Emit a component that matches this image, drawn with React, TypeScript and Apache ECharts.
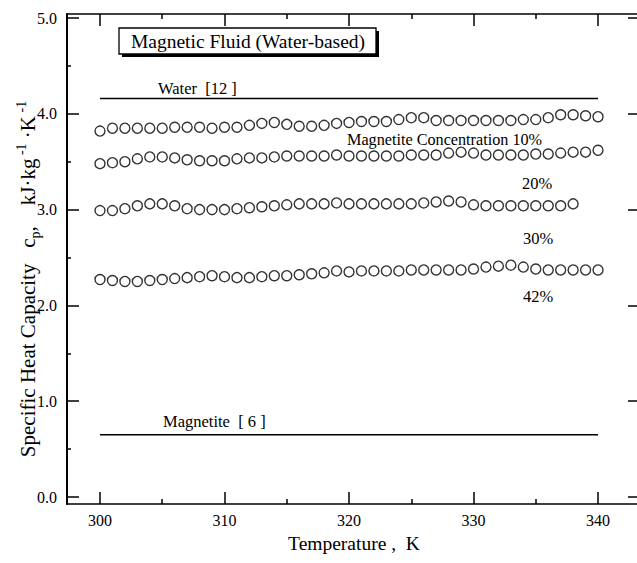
import React, { useEffect, useRef } from "react";
import * as echarts from "echarts";

// Temperature (K) of each measured point
const temperatures = [
  300, 301, 302, 303, 304, 305, 306, 307, 308, 309, 310, 311, 312, 313, 314, 315, 316, 317, 318, 319, 320,
  321, 322, 323, 324, 325, 326, 327, 328, 329, 330, 331, 332, 333, 334, 335, 336, 337, 338, 339, 340,
];

// Specific heat capacity (kJ/kg/K) of the magnetic fluid at each magnetite concentration
const cp10 = [
  3.82, 3.85, 3.85, 3.85, 3.85, 3.85, 3.86, 3.86, 3.86, 3.85, 3.86, 3.86, 3.88, 3.9, 3.91, 3.89, 3.87, 3.87, 3.88, 3.9, 3.91,
  3.92, 3.92, 3.92, 3.94, 3.96, 3.96, 3.93, 3.93, 3.93, 3.93, 3.93, 3.93, 3.93, 3.94, 3.94, 3.96, 3.99, 3.99, 3.98, 3.97,
];
const cp20 = [
  3.48, 3.49, 3.5, 3.53, 3.55, 3.55, 3.54, 3.52, 3.51, 3.51, 3.51, 3.53, 3.54, 3.54, 3.55, 3.56, 3.56, 3.56, 3.56, 3.57, 3.56,
  3.56, 3.56, 3.56, 3.56, 3.57, 3.57, 3.57, 3.59, 3.6, 3.59, 3.57, 3.57, 3.57, 3.57, 3.58, 3.58, 3.59, 3.6, 3.6, 3.62,
];
const cp30 = [
  2.99, 2.99, 3.01, 3.04, 3.06, 3.06, 3.04, 3.01, 3.0, 3.0, 3.0, 3.01, 3.02, 3.03, 3.04, 3.05, 3.06, 3.06, 3.06, 3.07, 3.06,
  3.06, 3.06, 3.06, 3.06, 3.06, 3.07, 3.08, 3.09, 3.08, 3.05, 3.04, 3.04, 3.04, 3.04, 3.04, 3.04, 3.04, 3.06,
];
const cp42 = [
  2.27, 2.26, 2.25, 2.25, 2.26, 2.27, 2.28, 2.29, 2.3, 2.31, 2.3, 2.29, 2.29, 2.3, 2.31, 2.31, 2.32, 2.33, 2.34, 2.36, 2.35,
  2.36, 2.36, 2.36, 2.36, 2.37, 2.37, 2.37, 2.37, 2.37, 2.38, 2.4, 2.41, 2.42, 2.4, 2.38, 2.37, 2.37, 2.37, 2.37, 2.37,
];

// Reference values (lines)
const waterRange = [300, 340];
const waterCp = 4.16;
const magnetiteRange = [300, 340];
const magnetiteCp = 0.65;

// Axis ticks
const xMajorTicks = [300, 310, 320, 330, 340];
const xMinorTicks = [305, 315, 325, 335];
const yMajorTicks = [0, 1, 2, 3, 4, 5];
const yMinorTicks = [0.5, 1.5, 2.5, 3.5, 4.5];

const FONT = "'Liberation Serif', 'Times New Roman', serif";

export default function App() {
  const ref = useRef<HTMLDivElement>(null);

  useEffect(() => {
    if (!ref.current) return;
    const chart = echarts.init(ref.current, undefined, { renderer: "svg" });

    const pairs = (ys: number[]) => ys.map((y, i) => [temperatures[i], y]);

    const xRange = { min: 297.35, max: 343.13 };
    const yRange = { min: -0.073, max: 5.042 };
    const black = "#000";

    const xAxisBase = (position: "top" | "bottom", ticks: number[], len: number, showLine: boolean, showLabel: boolean) => ({
      type: "value" as const,
      position,
      ...xRange,
      splitLine: { show: false },
      axisLine: { show: showLine, onZero: false, lineStyle: { color: black, width: 1.6 } },
      axisTick: { show: true, inside: true, length: len, customValues: ticks, lineStyle: { color: black, width: 1.5 } },
      axisLabel: showLabel
        ? { show: true, customValues: ticks, color: black, fontFamily: FONT, fontSize: 16, margin: 8 }
        : { show: false },
    });

    const yAxisBase = (position: "left" | "right", ticks: number[], len: number, showLine: boolean, showLabel: boolean) => ({
      type: "value" as const,
      position,
      ...yRange,
      splitLine: { show: false },
      axisLine: { show: showLine, onZero: false, lineStyle: { color: black, width: 2 } },
      axisTick: { show: true, inside: true, length: len, customValues: ticks, lineStyle: { color: black, width: 1.5 } },
      axisLabel: showLabel
        ? {
            show: true,
            customValues: ticks,
            color: black,
            fontFamily: FONT,
            fontSize: 16,
            margin: 10,
            formatter: (v: number) => v.toFixed(1),
          }
        : { show: false },
    });

    const circleSeries = (name: string, ys: number[]) => ({
      name,
      type: "scatter" as const,
      xAxisIndex: 0,
      yAxisIndex: 0,
      data: pairs(ys),
      symbol: "circle",
      symbolSize: 10,
      itemStyle: { color: "#fff", borderColor: black, borderWidth: 1.4 },
      z: 3,
    });

    const refLine = (name: string, range: number[], v: number) => ({
      name,
      type: "line" as const,
      xAxisIndex: 0,
      yAxisIndex: 0,
      data: range.map((t) => [t, v]),
      showSymbol: false,
      symbol: "none",
      lineStyle: { color: black, width: 1.6 },
      z: 2,
    });

    const label = (text: string, x: number, y: number, size = 16.5) => ({
      type: "text" as const,
      x,
      y,
      style: {
        text,
        fill: black,
        font: `${size}px ${FONT}`,
        align: "left",
        verticalAlign: "middle",
      },
    });

    chart.setOption({
      animation: false,
      backgroundColor: "#fff",
      grid: { left: 67, right: 0, top: 14, bottom: 59, containLabel: false },
      xAxis: [
        xAxisBase("bottom", xMajorTicks, 12, true, true),
        xAxisBase("bottom", xMinorTicks, 5, false, false),
        xAxisBase("top", xMajorTicks, 12, true, false),
        xAxisBase("top", xMinorTicks, 5, false, false),
      ],
      yAxis: [
        yAxisBase("left", yMajorTicks, 12, true, true),
        yAxisBase("left", yMinorTicks, 4, false, false),
        yAxisBase("right", yMajorTicks, 9, false, false),
      ],
      series: [
        refLine("Water [12]", waterRange, waterCp),
        refLine("Magnetite [6]", magnetiteRange, magnetiteCp),
        circleSeries("10%", cp10),
        circleSeries("20%", cp20),
        circleSeries("30%", cp30),
        circleSeries("42%", cp42),
      ],
      graphic: [
        // title box with drop shadow
        { type: "rect", shape: { x: 122, y: 31, width: 257, height: 26 }, style: { fill: black }, z: 10 },
        {
          type: "rect",
          shape: { x: 119, y: 28, width: 257, height: 26 },
          style: { fill: "#fff", stroke: black, lineWidth: 1.3 },
          z: 11,
        },
        {
          type: "text",
          x: 248,
          y: 41.5,
          z: 12,
          style: {
            text: "Magnetic Fluid (Water-based)",
            fill: black,
            font: `19.5px ${FONT}`,
            align: "center",
            verticalAlign: "middle",
          },
        },
        label("Water  [12 ]", 158, 88),
        label("Magnetite Concentration 10%", 347, 140, 16.2),
        label("20%", 522, 183, 16.5),
        label("30%", 523, 238, 16.5),
        label("42%", 523, 296, 16.5),
        label("Magnetite  [ 6 ]", 163, 421),
        {
          type: "text",
          x: 354,
          y: 543,
          style: {
            text: "Temperature ,  K",
            fill: black,
            font: `19.5px ${FONT}`,
            align: "center",
            verticalAlign: "middle",
          },
        },
        {
          type: "text",
          x: 28,
          y: 279,
          rotation: Math.PI / 2,
          style: {
            text: "{a|Specific Heat Capacity   c}{sub|p}{a|,    kJ·kg}{sup| -1}{a| ·K}{sup| -1}",
            fill: black,
            align: "center",
            verticalAlign: "middle",
            rich: {
              a: { fontFamily: FONT, fontSize: 21, lineHeight: 28, fill: black, verticalAlign: "middle" },
              sub: { fontFamily: FONT, fontSize: 14, lineHeight: 28, fill: black, verticalAlign: "bottom" },
              sup: { fontFamily: FONT, fontSize: 14, lineHeight: 28, fill: black, verticalAlign: "top" },
            },
          },
        },
      ],
    });

    return () => chart.dispose();
  }, []);

  return <div ref={ref} style={{ position: "absolute", left: 0, top: 0, width: 637, height: 563 }} />;
}
